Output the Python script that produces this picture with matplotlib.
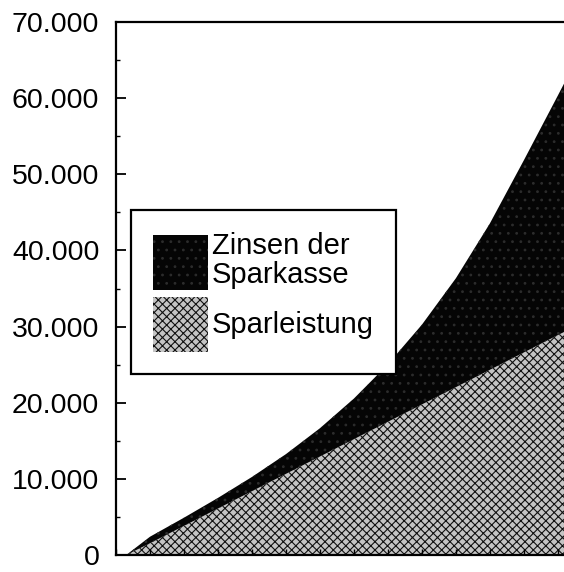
import numpy as np
import matplotlib
matplotlib.use('Agg')
from matplotlib import pyplot as plt
from matplotlib.patches import Patch
from matplotlib.ticker import MultipleLocator, FuncFormatter

# Jahre (Laufzeit), rechter Rand des Diagramms ist abgeschnitten
jahre = [0.3, 1, 2, 3, 4, 5, 6, 7, 8, 9, 10, 11, 12, 13, 13.18]
# eingezahltes Kapital (Sparleistung)
sparleistung = [0, 1540, 3820, 6100, 8380, 10650, 12930, 15210, 17490,
                19770, 22040, 24320, 26600, 28880, 29280]
# Gesamtguthaben = Sparleistung + Zinsen der Sparkasse
guthaben = [0, 2400, 4900, 7500, 10250, 13250, 16650, 20550, 25050,
            30250, 36350, 43550, 51850, 60350, 61900]

labels = ['Zinsen der\nSparkasse', 'Sparleistung']

plt.rcParams['font.family'] = ['Liberation Sans', 'DejaVu Sans']
plt.rcParams['hatch.linewidth'] = 0.8

fig = plt.figure(figsize=(5.64, 5.72), dpi=100)
ax = fig.add_axes([116 / 564, 17 / 572, 1 - 116 / 564, 533 / 572])

# Flaechen
spar_style = dict(facecolor='#c4c4c4', edgecolor='#111111', hatch='xxxx', linewidth=0)
zins_style = dict(facecolor='#050505', edgecolor='#2c2c2c', hatch='..', linewidth=0)
ax.fill_between(jahre, 0, sparleistung, **spar_style)
ax.fill_between(jahre, sparleistung, guthaben, **zins_style)

ax.set_xlim(0, 13.18)
ax.set_ylim(0, 70000)

# Achsen
for s in ['left', 'top', 'bottom']:
    ax.spines[s].set_linewidth(1.6)
ax.spines['right'].set_visible(False)

ax.yaxis.set_major_locator(MultipleLocator(10000))
ax.yaxis.set_minor_locator(MultipleLocator(5000))
ax.yaxis.set_major_formatter(FuncFormatter(lambda v, p: f'{int(v):,}'.replace(',', '.')))
ax.tick_params(axis='y', which='major', direction='in', length=7, width=1.3,
               pad=12, labelsize=20.5)
ax.tick_params(axis='y', which='minor', direction='in', length=3, width=1.0)
ax.xaxis.set_major_locator(MultipleLocator(1))
ax.tick_params(axis='x', which='major', direction='in', length=4, width=1.0,
               labelbottom=False)

# Legende
handles = [Patch(**zins_style), Patch(**spar_style)]
leg = ax.legend(handles, labels, loc='upper left', bbox_to_anchor=(0.0335, 0.647),
                fontsize=21, frameon=True, fancybox=False, framealpha=1,
                edgecolor='black', handlelength=1.9, handleheight=2.55,
                handletextpad=0.12, labelspacing=0.22, borderpad=0.75,
                borderaxespad=0)
leg.get_frame().set_linewidth(1.6)
for t in leg.get_texts():
    t.set_linespacing(1.05)

fig.savefig('out.png', dpi=100)
